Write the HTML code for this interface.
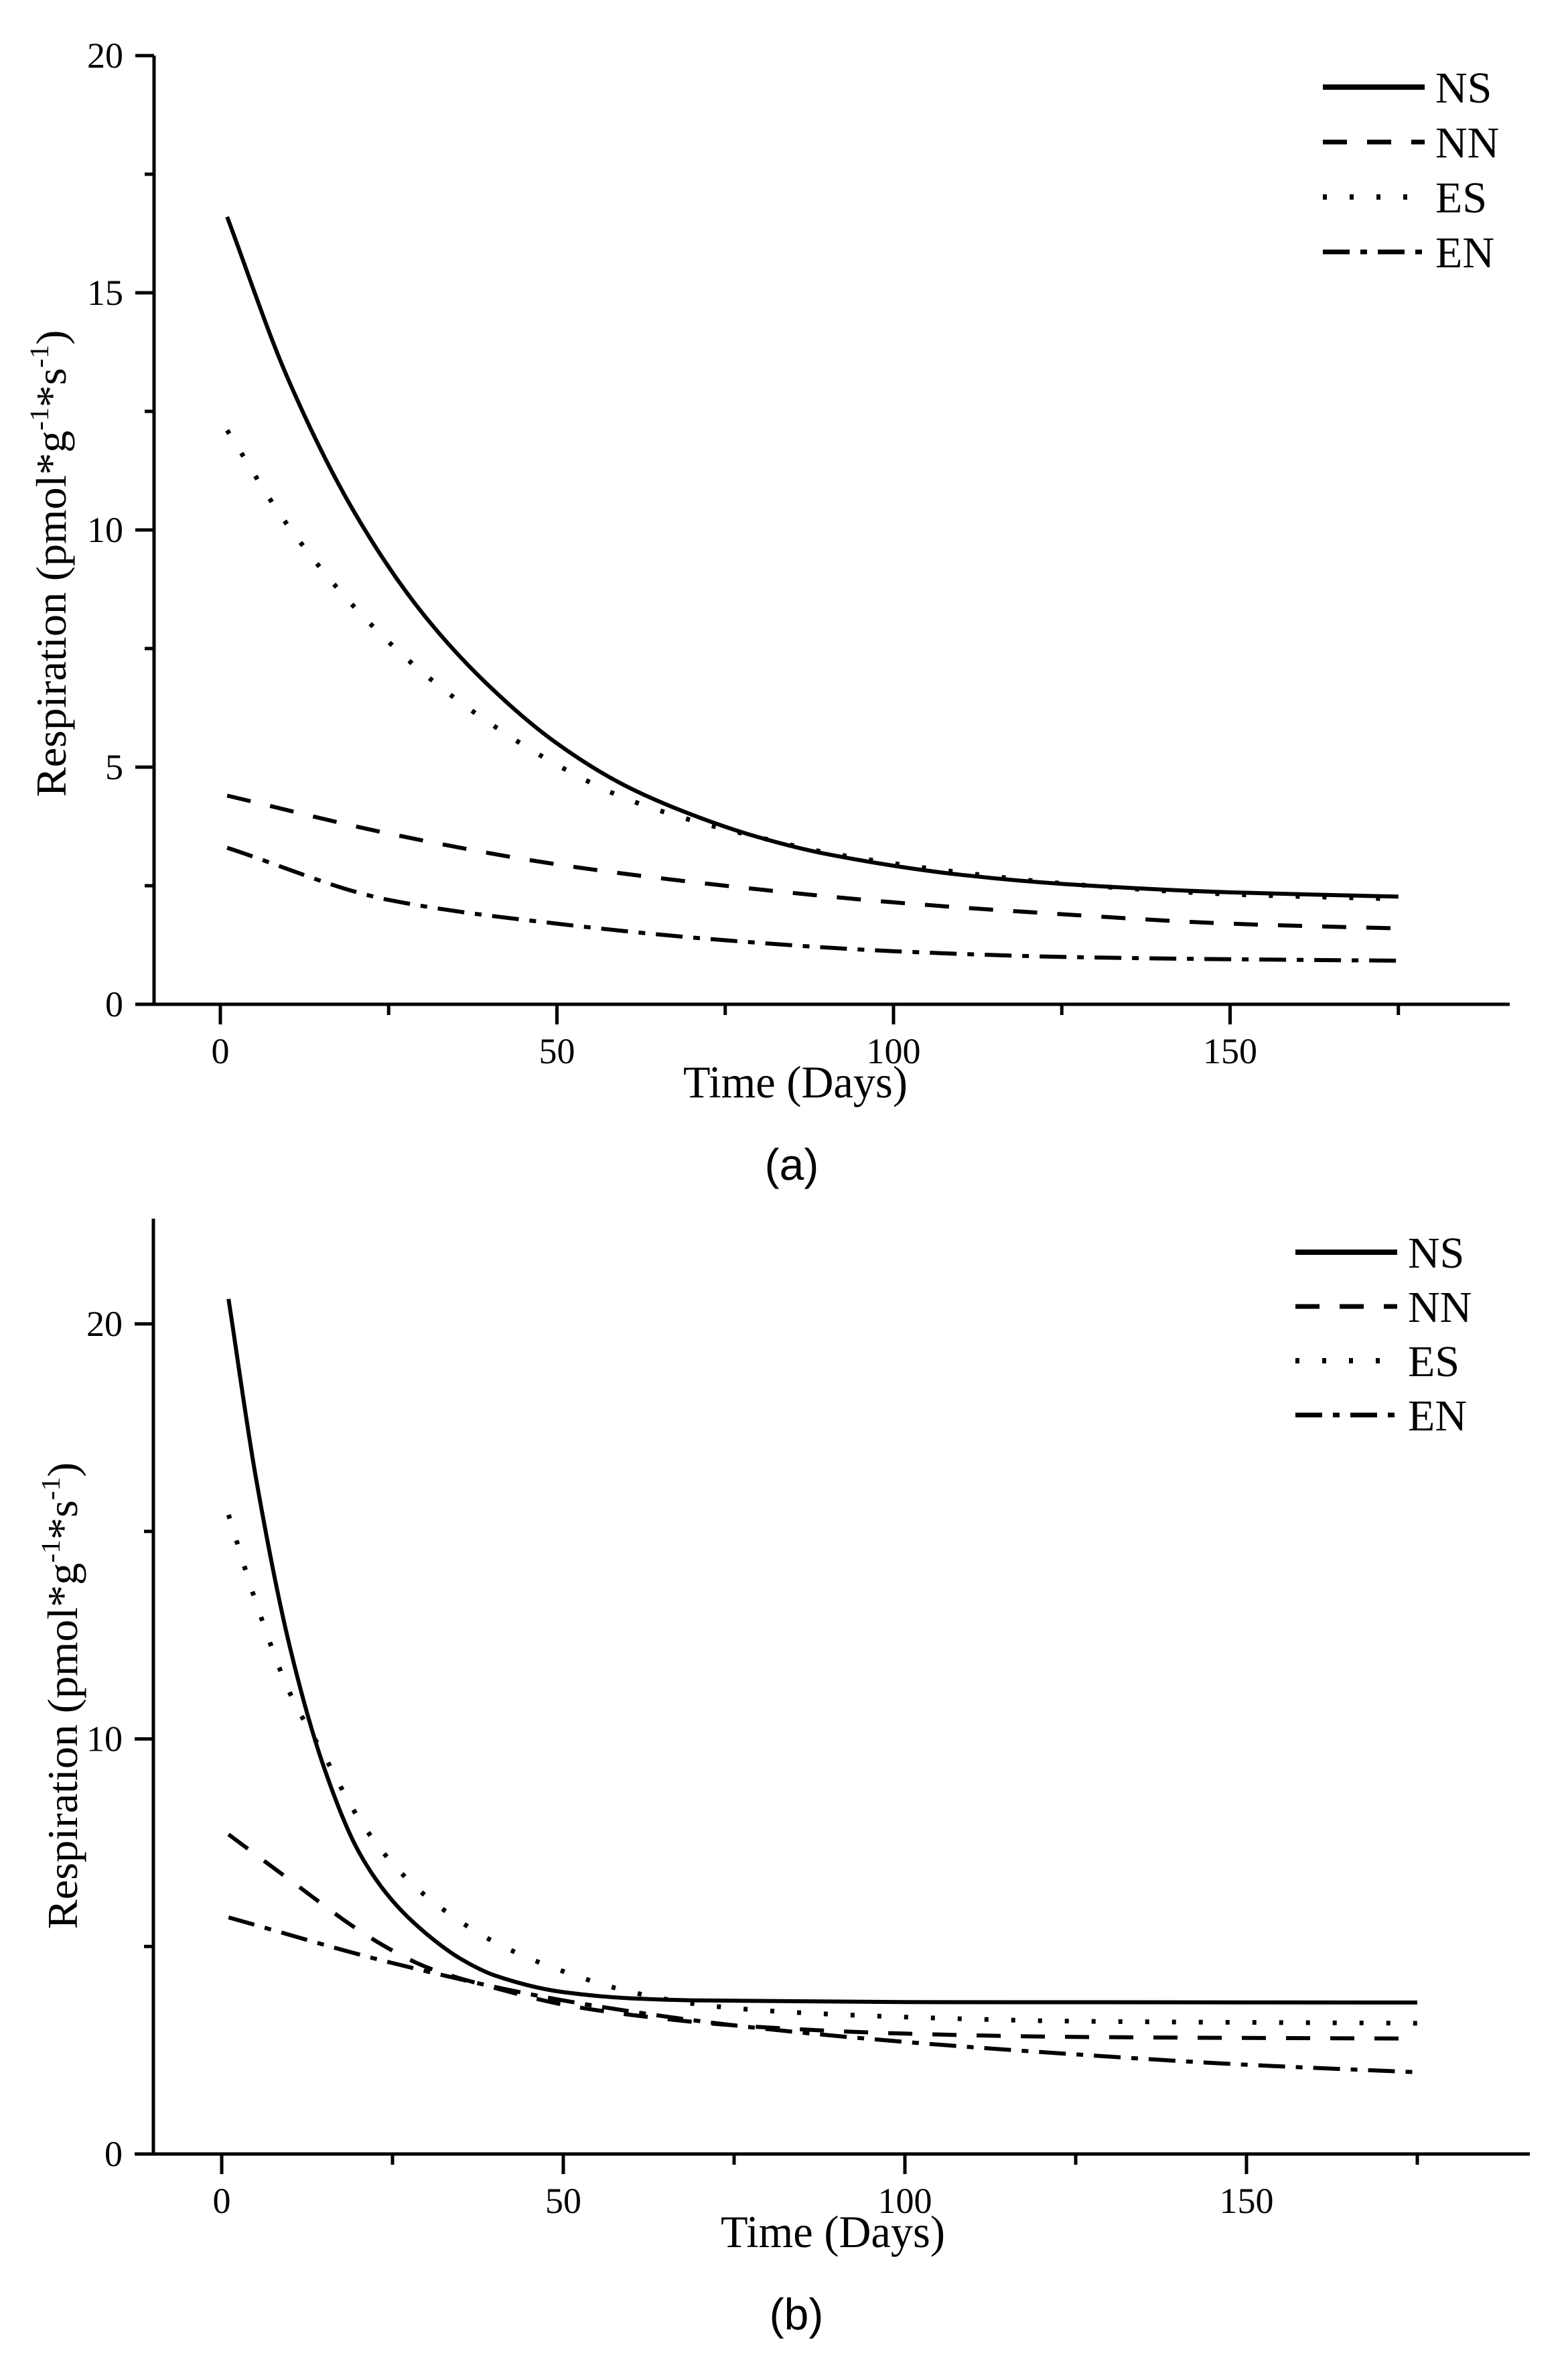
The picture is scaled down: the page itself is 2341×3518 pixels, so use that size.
<!DOCTYPE html>
<html><head><meta charset="utf-8">
<style>
html,body{margin:0;padding:0;background:#fff;}
svg{display:block;}
text{font-family:"Liberation Serif",serif;fill:#000;}
.cap{font-family:"Liberation Sans",sans-serif;}
</style></head>
<body>
<svg id="root" width="2341" height="3518" viewBox="0 0 2341 3518" xmlns="http://www.w3.org/2000/svg">
<rect x="0" y="0" width="2341" height="3518" fill="#fff"/>
<g id="chartA"></g>
<g id="chartB"></g>
</svg>
<script>
// ---- Chart (a) data ----
const daysA = [1, 10, 20, 30, 40, 50, 60, 70, 80, 90, 110, 125, 150, 175];
const nsA   = [16.6, 13.2, 10.35, 8.25, 6.7, 5.5, 4.62, 4.0, 3.52, 3.17, 2.73, 2.54, 2.36, 2.27];
const esA   = [12.1, 10.1, 8.36, 7.0, 5.93, 5.05, 4.35, 3.88, 3.52, 3.2, 2.78, 2.55, 2.32, 2.22];
const daysA2 = [1, 25, 50, 75, 100, 125, 150, 175];
const nnA   = [4.4, 3.6, 2.95, 2.5, 2.15, 1.9, 1.7, 1.6];
const enA   = [3.3, 2.2, 1.7, 1.35, 1.12, 1.0, 0.95, 0.92];
const yTicksA = [0, 5, 10, 15, 20];
const yMinorA = [2.5, 7.5, 12.5, 17.5];
// ---- Chart (b) data ----
const daysB = [1, 5, 10, 15, 20, 25, 30, 35, 40, 50, 60, 70, 100, 175];
const nsB   = [20.6, 16.3, 12.2, 9.3, 7.3, 6.1, 5.3, 4.7, 4.3, 3.9, 3.75, 3.7, 3.66, 3.65];
const daysB2 = [1, 5, 10, 15, 20, 25, 30, 40, 50, 60, 70, 80, 100, 125, 175];
const esB   = [15.4, 13.3, 11.1, 9.6, 8.1, 7.0, 6.2, 5.1, 4.4, 3.9, 3.6, 3.45, 3.3, 3.2, 3.15];
const daysB3 = [1, 10, 20, 25, 30, 40, 50, 60, 75, 100, 125, 175];
const nnB   = [7.7, 6.6, 5.4, 4.9, 4.5, 4.0, 3.6, 3.35, 3.1, 2.9, 2.82, 2.78];
const daysB4 = [1, 25, 50, 75, 100, 125, 150, 175];
const enB   = [5.7, 4.6, 3.7, 3.1, 2.7, 2.4, 2.15, 1.97];
const yTicksB = [0, 10, 20];
const yMinorB = [5, 15];
const xTicks = [0, 50, 100, 150];
const xMinor = [25, 75, 125, 175];
const seriesNames = ["NS", "NN", "ES", "EN"];

const NS = "http://www.w3.org/2000/svg";
function mk(parent, tag, attrs){
  const e = document.createElementNS(NS, tag);
  for (const k in attrs) e.setAttribute(k, attrs[k]);
  parent.appendChild(e);
  return e;
}
const styles = {
  NS:{w:6, dash:""},
  NN:{w:6, dash:"36 30"},
  ES:{w:7, dash:"6 34"},
  EN:{w:6, dash:"40 16 10 16"}
};
function smoothPath(pts){
  const n = pts.length;
  const dx=[], m=[], t=[];
  for (let i=0;i<n-1;i++){ dx.push(pts[i+1][0]-pts[i][0]); m.push((pts[i+1][1]-pts[i][1])/dx[i]); }
  t[0]=m[0]; t[n-1]=m[n-2];
  for (let i=1;i<n-1;i++){
    if (m[i-1]*m[i]<=0) t[i]=0;
    else { const w1=2*dx[i]+dx[i-1], w2=dx[i]+2*dx[i-1]; t[i]=(w1+w2)/(w1/m[i-1]+w2/m[i]); }
  }
  let d = "M" + pts[0][0].toFixed(1) + "," + pts[0][1].toFixed(1);
  for (let i=0;i<n-1;i++){
    const h=dx[i]/3;
    d += " C"+(pts[i][0]+h).toFixed(1)+","+(pts[i][1]+t[i]*h).toFixed(1)+" "+(pts[i+1][0]-h).toFixed(1)+","+(pts[i+1][1]-t[i+1]*h).toFixed(1)+" "+pts[i+1][0].toFixed(1)+","+pts[i+1][1].toFixed(1);
  }
  return d;
}
function drawChart(g, cfg){
  const xS = d => cfg.x0 + d*cfg.xk;
  const yS = v => cfg.y0 - v*cfg.yk;
  const ya = mk(g,"line",{x1:cfg.ax,y1:cfg.yTop,x2:cfg.ax,y2:cfg.y0+2,stroke:"#000","stroke-width":5});
  
  
  const xa = mk(g,"line",{x1:cfg.xStart,y1:cfg.y0,x2:cfg.xEnd,y2:cfg.y0,stroke:"#000","stroke-width":5});
  
  
  cfg.yTicks.forEach(v=>{
    const t = mk(g,"line",{x1:cfg.ax-28,y1:yS(v),x2:cfg.ax,y2:yS(v),stroke:"#000","stroke-width":5});
    
    
    const l = mk(g,"text",{x:cfg.ax-46,y:yS(v)+18,"text-anchor":"end","font-size":54});
    l.textContent = v;
    
    
  });
  cfg.yMinor.forEach(v=>{
    const t = mk(g,"line",{x1:cfg.ax-14,y1:yS(v),x2:cfg.ax,y2:yS(v),stroke:"#000","stroke-width":5});
    
    
  });
  xTicks.forEach(v=>{
    const t = mk(g,"line",{x1:xS(v),y1:cfg.y0,x2:xS(v),y2:cfg.y0+30,stroke:"#000","stroke-width":5});
    
    
    const l = mk(g,"text",{x:xS(v),y:cfg.y0+88,"text-anchor":"middle","font-size":54});
    l.textContent = v;
    
    
  });
  xMinor.forEach(v=>{
    const t = mk(g,"line",{x1:xS(v),y1:cfg.y0,x2:xS(v),y2:cfg.y0+16,stroke:"#000","stroke-width":5});
    
    
  });
  cfg.series.forEach(s=>{
    const pts = s.days.map((d,i)=>[xS(d), yS(s.vals[i])]);
    const p = mk(g,"path",{d:smoothPath(pts),fill:"none",stroke:"#000","stroke-width":styles[s.name].w,"stroke-dasharray":styles[s.name].dash});
    
    
  });
  seriesNames.forEach((n,i)=>{
    const y = cfg.legY + i*cfg.legDy;
    const l = mk(g,"line",{x1:cfg.legX,y1:y,x2:cfg.legX+152,y2:y,stroke:"#000","stroke-width":styles[n].w+(n==="NS"?2:1),"stroke-dasharray":styles[n].dash});
    
    
    const t = mk(g,"text",{x:cfg.legX+168,y:y+23,"font-size":66});
    t.textContent = n;
    
    
  });
  const xt = mk(g,"text",{x:cfg.xtX,y:cfg.y0+139,"font-size":68,textLength:335,lengthAdjust:"spacingAndGlyphs"});
  xt.textContent = "Time (Days)";
  
  
  const yt = mk(g,"text",{x:0,y:0,"font-size":64,transform:"translate("+cfg.ytX+","+cfg.ytY+") rotate(-90)","text-anchor":"middle",textLength:697,lengthAdjust:"spacingAndGlyphs"});
  yt.innerHTML = 'Respiration (pmol*g<tspan dy="-26" font-size="40">-1</tspan><tspan dy="26">*s</tspan><tspan dy="-26" font-size="40">-1</tspan><tspan dy="26">)</tspan>';
  
  
  const cap = mk(g,"text",{x:cfg.capX,y:cfg.y0+262,"font-size":66,"text-anchor":"middle","class":"cap"});
  cap.textContent = cfg.cap;
  
  
}
drawChart(document.getElementById("chartA"),{
  x0:329, xk:10.05, y0:1499, yk:(1499-83)/20, ax:230, yTop:83, xStart:205, xEnd:2254,
  yTicks:yTicksA, yMinor:yMinorA,
  series:[{name:"NS",days:daysA,vals:nsA},{name:"ES",days:daysA,vals:esA},{name:"NN",days:daysA2,vals:nnA},{name:"EN",days:daysA2,vals:enA}],
  legX:1975, legY:130, legDy:82, xtX:1020, ytX:98, ytY:841, capX:1182, cap:"(a)"
});
drawChart(document.getElementById("chartB"),{
  x0:331, xk:10.2, y0:3215, yk:(3215-1976)/20, ax:229, yTop:1819, xStart:202, xEnd:2284,
  yTicks:yTicksB, yMinor:yMinorB,
  series:[{name:"NS",days:daysB,vals:nsB},{name:"ES",days:daysB2,vals:esB},{name:"NN",days:daysB3,vals:nnB},{name:"EN",days:daysB4,vals:enB}],
  legX:1934, legY:1869, legDy:81, xtX:1076, ytX:115, ytY:2531, capX:1189, cap:"(b)"
});
</script>
</body></html>
